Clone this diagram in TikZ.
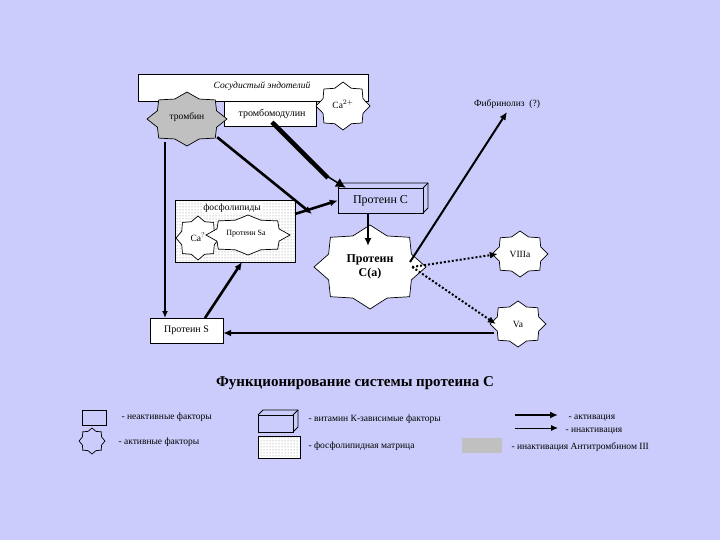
\documentclass[tikz,border=0pt]{standalone}
\usepackage{fontspec}
\setmainfont{Liberation Serif}
\usetikzlibrary{calc,arrows.meta,patterns}
\definecolor{bg}{RGB}{204,204,252}
\definecolor{thr}{RGB}{192,192,192}
\newcommand{\mystar}[4]{% center, half-width, half-height, fill
  \draw[fill=#4,line width=0.7pt] ($(#1)+(0:#2 pt and #3 pt)$)
   \foreach \k in {0,...,7}{ -- ($(#1)+(\k*45+22.5:0.8*#2 pt and 0.8*#3 pt)$) -- ($(#1)+(\k*45+45:#2 pt and #3 pt)$)} -- cycle;}
\newcommand{\mybox}[5]{% x1,y1,x2,y2,fill
  \draw[line width=0.8pt,fill=#5] (#1,#2) rectangle (#3,#4);
  \draw[line width=0.8pt] (#1,#2) -- ++(5,-5) -- (#3+5,#2-5) -- (#3+5,#4-5) -- (#3,#4);
  \draw[line width=0.8pt] (#3,#2) -- (#3+5,#2-5);}
\begin{document}
\begin{tikzpicture}[x=1pt,y=-1pt,
  sm/.style={font=\fontsize{9.5}{10}\selectfont},
  act/.style={-{Latex[length=8pt,width=7pt]},line width=2.6pt},
  thin/.style={-{Latex[length=7pt,width=6pt]},line width=1.6pt},
  dot/.style={-{Latex[length=8pt,width=7pt]},line width=2pt,dotted}]
\fill[bg] (0,0) rectangle (720,540);
\useasboundingbox (0,0) rectangle (720,540);
% endothelium
\draw[fill=white,line width=0.8pt] (138,74) rectangle (368,101);
\node[font=\fontsize{9.5}{10}\selectfont\itshape] (endo) at (262,86) {Сосудистый эндотелий};
\draw[fill=white,line width=0.8pt] (224,101) rectangle (316,126);
\node[font=\fontsize{10}{11}\selectfont] (tm) at (272,114) {тромбомодулин};
\mystar{187,119}{40}{27}{thr}
\node[sm,minimum width=60pt,minimum height=40pt] (thr) at (187,117) {тромбин};
\mystar{343,106}{27}{24}{white}
\node[sm,minimum width=40pt,minimum height=34pt] (ca1) at (343,104) {Ca$^{2+}$};
\node[sm] (fib) at (507,104) {Фибринолиз \ (?)};
% phospholipids
\draw[fill=white] (175,200) rectangle (295,262);
\fill[pattern=dots,pattern color=gray] (175,200) rectangle (295,262);
\draw[line width=0.8pt] (175,200) rectangle (295,262);
\node[sm,fill=white,inner sep=1pt] (ph) at (232,208) {фосфолипиды};
\mystar{198,238}{22}{22}{white}
\node[sm] (ca2) at (198,237) {Ca$^{?}$};
\mystar{248,235}{42}{20}{white}
\node[font=\fontsize{8}{9}\selectfont] (psa) at (246,234) {Протеин Sa};
\node[minimum width=120pt,minimum height=62pt] (phbox) at (235,231) {};
% Protein C
\mybox{338}{188}{423}{213}{bg}
\node[font=\fontsize{12}{13}\selectfont,minimum width=85pt,minimum height=25pt] (pc) at (380.5,200.5) {Протеин С};
% Protein C(a)
\mystar{370,267}{56}{42}{white}
\node[font=\fontsize{12}{14}\selectfont\bfseries,align=center,minimum width=84pt,minimum height=56pt] (pca) at (370,267) {Протеин\\С(а)};
\mystar{520,254}{28}{23}{white}
\node[sm,minimum width=44pt,minimum height=30pt] (v8) at (520,254) {VIIIa};
\mystar{518,324}{28}{23}{white}
\node[sm,minimum width=44pt,minimum height=30pt] (v5) at (518,324) {Va};
\draw[fill=white,line width=0.8pt] (150,318) rectangle (223,343);
\node[font=\fontsize{10}{11}\selectfont,minimum width=73pt,minimum height=25pt] (ps) at (186.5,330.5) {Протеин S};
% connectors
\draw[thin] (165,142) -- (165,318);
\draw[act] (thr.south east) -- (312,214);
\draw[act] (295,214) -- (pc.west);
\draw[line width=4.5pt] (tm.south) -- ($(tm.south)!0.85!(pc.north west)$);
\draw[-{Latex[length=10pt,width=10pt]},line width=1.5pt] ($(tm.south)!0.8!(pc.north west)$) -- ($(pc.north west)+(8,0)$);
\draw[act] (368,213) -- (368,246);
\draw[line width=2pt,-{Latex[length=8pt,width=7pt]}] (410,262) -- (fib.south);
\draw[dot] (pca.east) -- (v8.west);
\draw[dot] (pca.east) -- (v5.west);
\coordinate (vaL) at (494,333);
\draw[act] (vaL) -- (vaL -| ps.east);
\draw[act] (205,318) -- (242,262);
% title
\node[font=\fontsize{15}{17}\selectfont\bfseries] (title) at (355,383) {Функционирование системы протеина С};
% legend
\draw[fill=bg,line width=0.8pt] (82,410) rectangle (106,425);
\node[sm,anchor=west] (l1) at (118,417) {- неактивные факторы};
\mystar{92,441}{13}{13}{bg}
\node[sm,anchor=west] (l2) at (115,442) {- активные факторы};
\mybox{258}{415}{293}{432}{bg}
\node[sm,anchor=west] (l3) at (305,419) {- витамин К-зависимые факторы};
\draw[fill=white] (258,436) rectangle (300,458);
\fill[pattern=dots,pattern color=gray] (258,436) rectangle (300,458);
\draw[line width=0.8pt] (258,436) rectangle (300,458);
\node[sm,anchor=west] (l4) at (305,446) {- фосфолипидная матрица};
\coordinate (a1) at (515,415); \coordinate (a2) at (558,415);
\coordinate (b1) at (515,428); \coordinate (b2) at (558,428);
\draw[act] (a1) -- (a2);
\draw[-{Latex[length=7pt,width=6pt]},line width=1pt] (b1) -- (b2);
\node[sm,anchor=west] (l5) at (565,418) {- активация};
\node[sm,anchor=west] (l6) at (562,431) {- инактивация};
\fill[thr] (462,438) rectangle (502,453);
\node[sm,anchor=west] (l7) at (508,447) {- инактивация Антитромбином III};
\end{tikzpicture}
\end{document}
